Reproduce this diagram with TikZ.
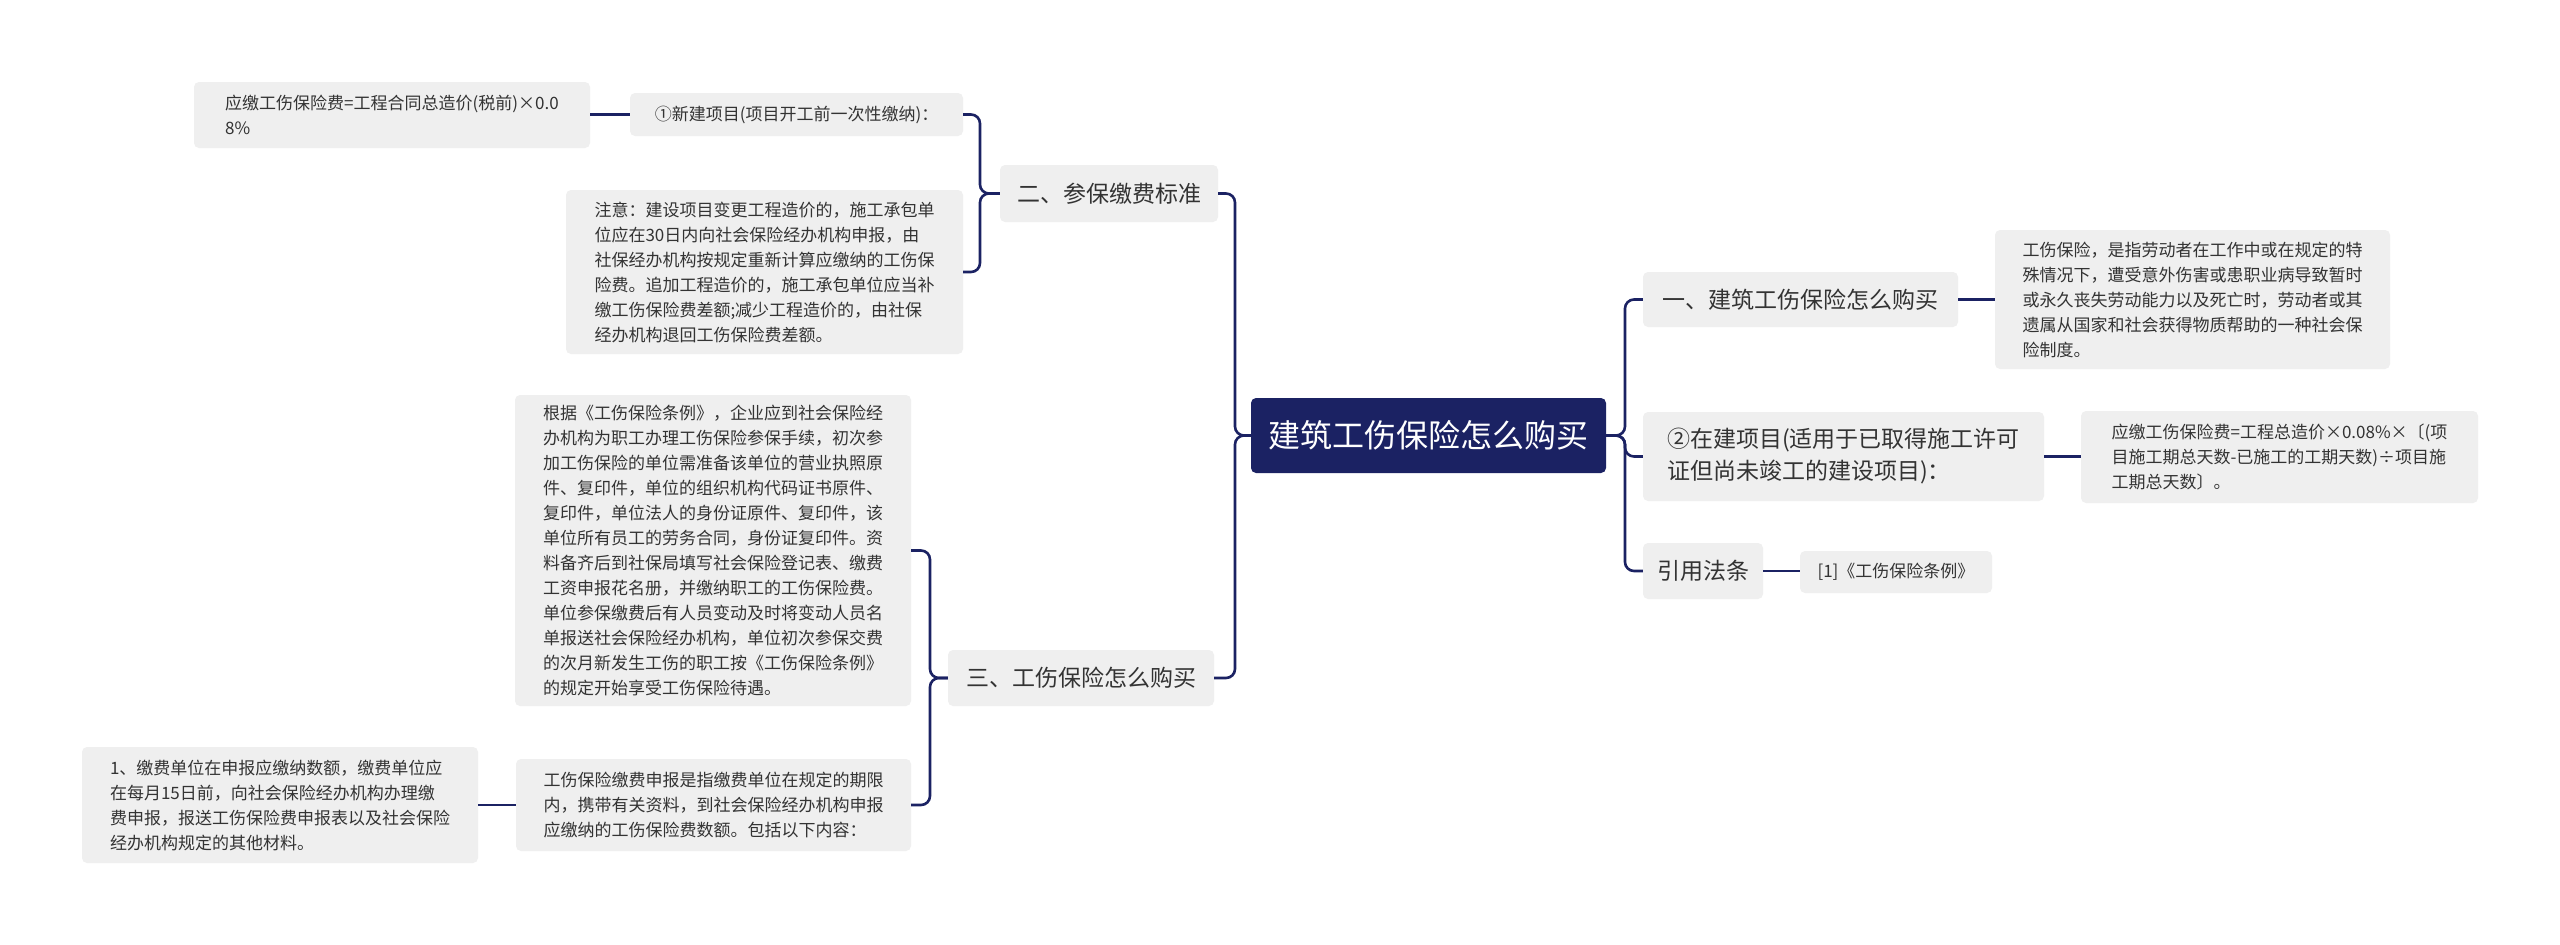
\documentclass[tikz,border=0pt]{standalone}
\usepackage{fontspec}
\setmainfont{Noto Sans CJK SC}
\begin{document}
\begin{tikzpicture}[x=1pt,y=-1pt,
  box/.style={fill=boxgray,rounded corners=5pt,align=left,text=textgray,inner sep=0pt},
  sm/.style={font=\fontsize{17}{25}\selectfont},
  md/.style={font=\fontsize{23}{32}\selectfont},
  conn/.style={draw=navy,line width=2.6pt,rounded corners=9pt}]
\definecolor{navy}{HTML}{1B2263}
\definecolor{boxgray}{HTML}{EFEFEF}
\definecolor{textgray}{HTML}{333333}
\useasboundingbox[fill=white] (0,0) rectangle (2560,945);
\newcommand\bx[7]{\node[box,#1,minimum width=#4-#2,minimum height=#5-#3] (#6) at ({(#2+#4)/2},{(#3+#5)/2}) {#7};}
\bx{sm}{194}{82}{590}{148}{A1}{应缴工伤保险费=工程合同总造价(税前)×0.0\\8\%\hspace{300pt}}
\bx{sm}{630}{93}{963}{136}{A2}{①新建项目(项目开工前一次性缴纳)：}
\bx{sm}{566}{190}{963}{354}{A3}{注意：建设项目变更工程造价的，施工承包单\\位应在30日内向社会保险经办机构申报，由\\社保经办机构按规定重新计算应缴纳的工伤保\\险费。追加工程造价的，施工承包单位应当补\\缴工伤保险费差额;减少工程造价的，由社保\\经办机构退回工伤保险费差额。}
\bx{md}{1000}{165}{1218}{222}{B}{二、参保缴费标准}
\bx{sm}{515}{395}{911}{706}{C1}{根据《工伤保险条例》，企业应到社会保险经\\办机构为职工办理工伤保险参保手续，初次参\\加工伤保险的单位需准备该单位的营业执照原\\件、复印件，单位的组织机构代码证书原件、\\复印件，单位法人的身份证原件、复印件，该\\单位所有员工的劳务合同，身份证复印件。资\\料备齐后到社保局填写社会保险登记表、缴费\\工资申报花名册，并缴纳职工的工伤保险费。\\单位参保缴费后有人员变动及时将变动人员名\\单报送社会保险经办机构，单位初次参保交费\\的次月新发生工伤的职工按《工伤保险条例》\\的规定开始享受工伤保险待遇。}
\bx{md}{948}{650}{1214}{706}{C}{三、工伤保险怎么购买}
\bx{sm}{516}{759}{911}{851}{C2}{工伤保险缴费申报是指缴费单位在规定的期限\\内，携带有关资料，到社会保险经办机构申报\\应缴纳的工伤保险费数额。包括以下内容：}
\bx{sm}{82}{747}{478}{863}{C3}{1、缴费单位在申报应缴纳数额，缴费单位应\\在每月15日前，向社会保险经办机构办理缴\\费申报，报送工伤保险费申报表以及社会保险\\经办机构规定的其他材料。}
\node[fill=navy,rounded corners=5pt,text=white,font=\fontsize{32}{40}\selectfont,minimum width=355,minimum height=75,inner sep=0pt] (R) at (1428.5,435.5) {建筑工伤保险怎么购买};
\bx{md}{1643}{272}{1958}{327}{R1}{一、建筑工伤保险怎么购买}
\bx{sm}{1995}{230}{2390}{369}{R1a}{工伤保险，是指劳动者在工作中或在规定的特\\殊情况下，遭受意外伤害或患职业病导致暂时\\或永久丧失劳动能力以及死亡时，劳动者或其\\遗属从国家和社会获得物质帮助的一种社会保\\险制度。}
\bx{md}{1643}{412}{2044}{501}{R2}{②在建项目(适用于已取得施工许可\\证但尚未竣工的建设项目)：}
\bx{sm}{2081}{411}{2478}{503}{R2a}{应缴工伤保险费=工程总造价×0.08\%×〔(项\\目施工期总天数-已施工的工期天数)÷项目施\\工期总天数〕。}
\bx{md}{1643}{543}{1763}{599}{R3}{引用法条}
\bx{sm}{1800}{551}{1992}{593}{R3a}{[1]《工伤保险条例》}
% connectors
\coordinate (tl) at (1235,0); \coordinate (tr) at (1625,0);
\coordinate (tb) at (980,0); \coordinate (tc) at (930,0);
\draw[conn] (R.west) -- (R.west -| tl) |- (B.east);
\draw[conn] (R.west) -- (R.west -| tl) |- (C.east);
\draw[conn] (R.east) -- (R.east -| tr) |- (R1.west);
\draw[conn] (R.east) -- (R.east -| tr) |- (R2.west);
\draw[conn] (R.east) -- (R.east -| tr) |- (R3.west);
\draw[conn] (B.west) -- (B.west -| tb) |- (A2.east);
\draw[conn] (B.west) -- (B.west -| tb) |- (A3.east);
\draw[conn] (C.west) -- (C.west -| tc) |- (C1.east);
\draw[conn] (C.west) -- (C.west -| tc) |- (C2.east);
\draw[conn] (A2.west) -- (A1.east |- A2.west);
\draw[conn] (C2.west) -- (C3.east |- C2.west);
\draw[conn] (R1.east) -- (R1a.west |- R1.east);
\draw[conn] (R2.east) -- (R2a.west |- R2.east);
\draw[conn] (R3.east) -- (R3a.west |- R3.east);
\end{tikzpicture}
\end{document}
